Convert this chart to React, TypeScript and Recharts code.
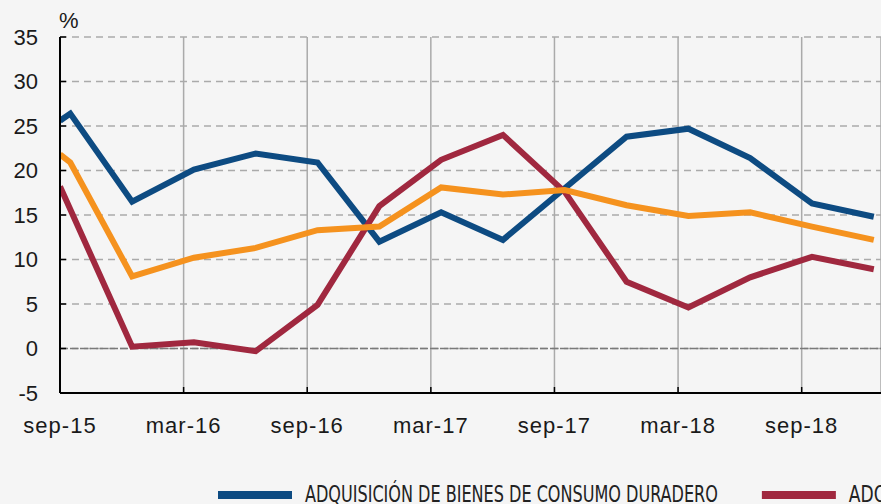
// Crédito por finalidades: tasas de variación (%)
import { LineChart, Line, XAxis, YAxis, CartesianGrid, ReferenceLine, Legend, Label } from "recharts";

// meses desde sep-15 (0 = eje, datos trimestrales)
const meses = [0, 0.5, 3.5, 6.5, 9.5, 12.5, 15.5, 18.5, 21.5, 24.5, 27.5, 30.5, 33.5, 36.5, 39.5];
const duradero = [25.6, 26.4, 16.5, 20.1, 21.9, 20.9, 12.0, 15.3, 12.2, 18.0, 23.8, 24.7, 21.4, 16.3, 14.8];
const vivienda = [18.2, null, 0.2, 0.7, -0.3, 4.9, 16.0, 21.2, 24.0, 17.6, 7.5, 4.6, 8.0, 10.3, 8.9];
const otras = [21.8, 20.9, 8.1, 10.2, 11.3, 13.3, 13.7, 18.1, 17.3, 17.8, 16.1, 14.9, 15.3, 13.7, 12.2];

const xTicks = [0, 6, 12, 18, 24, 30, 36];
const xLabels = ["sep-15", "mar-16", "sep-16", "mar-17", "sep-17", "mar-18", "sep-18"];
const yTicks = [-5, 0, 5, 10, 15, 20, 25, 30, 35];

const series = [
    { key: "duradero", name: "ADQUISICIÓN DE BIENES DE CONSUMO DURADERO", color: "#0d4b82" },
    { key: "vivienda", name: "ADQUISICIÓN DE VIVIENDA", color: "#a0283f" },
    { key: "otras", name: "OTRAS FINALIDADES", color: "#f5921e" },
];

const data = meses.map((m, i) => ({ m, duradero: duradero[i], vivienda: vivienda[i], otras: otras[i] }));

const FONT = "'Liberation Sans', Arial, sans-serif";

const LeyendaCustom = () => {
    let x = 218;
    return (
        <svg width={1500} height={30} style={{ display: "block", overflow: "visible" }}>
            {series.map((s) => {
                const textW = s.name.length * 10.07;
                const sx = x;
                x += 74 + 13 + textW + 44;
                return (
                    <g key={s.key}>
                        <rect x={sx} y={17} width={74} height={8} fill={s.color} />
                        <text
                            x={sx + 87}
                            y={28}
                            fontSize={23}
                            fill="#222"
                            fontFamily="'Liberation Sans Narrow', 'DejaVu Sans Condensed', Arial, sans-serif"
                            textLength={textW}
                            lengthAdjust="spacingAndGlyphs"
                        >
                            {s.name}
                        </text>
                    </g>
                );
            })}
        </svg>
    );
};

export default function App() {
    return (
        <div
            style={{
                position: "absolute", left: 0, top: 0, width: 881, height: 504,
                overflow: "hidden", background: "#f5f5f5", fontFamily: FONT,
            }}
        >
            <LineChart width={881} height={504} data={data} margin={{ top: 37, right: 0, bottom: 0, left: 0 }}>
                <CartesianGrid horizontal vertical={false} stroke="#aaaaaa" strokeWidth={1.5} strokeDasharray="7 5" />
                <CartesianGrid horizontal={false} vertical stroke="#aaaaaa" strokeWidth={1.5} />
                <ReferenceLine y={0} stroke="#7a7a7a" strokeWidth={1.5} strokeDasharray="8 2" />
                <XAxis
                    type="number"
                    dataKey="m"
                    domain={[0, 39.85]}
                    allowDataOverflow
                    ticks={xTicks}
                    tickFormatter={(v: number) => xLabels[xTicks.indexOf(v)]}
                    height={81}
                    axisLine={{ stroke: "#000", strokeWidth: 2 }}
                    tickLine={{ stroke: "#000", strokeWidth: 1.5 }}
                    tickSize={-6}
                    tickMargin={30}
                    tick={{ fontSize: 22, fill: "#1a1a1a", fontFamily: FONT, letterSpacing: 1 }}
                    interval={0}
                />
                <YAxis
                    domain={[-5, 35]}
                    ticks={yTicks}
                    width={60}
                    axisLine={{ stroke: "#000", strokeWidth: 2 }}
                    tickLine={{ stroke: "#000", strokeWidth: 1.5 }}
                    tickSize={-6}
                    tickMargin={28}
                    tick={{ fontSize: 22, fill: "#1a1a1a", fontFamily: FONT }}
                    interval={0}
                >
                    <Label
                        content={({ viewBox }: any) => (
                            <text x={viewBox.x + viewBox.width - 1} y={viewBox.y - 9} fontSize={22} fill="#1a1a1a" fontFamily={FONT}>
                                %
                            </text>
                        )}
                    />
                </YAxis>
                <Legend verticalAlign="bottom" content={<LeyendaCustom />} wrapperStyle={{ left: 0, bottom: 0, height: 30 }} />
                {series.map((s) => (
                    <Line
                        key={s.key}
                        type="linear"
                        dataKey={s.key}
                        name={s.name}
                        stroke={s.color}
                        strokeWidth={6}
                        dot={false}
                        activeDot={false}
                        connectNulls
                        isAnimationActive={false}
                    />
                ))}
            </LineChart>
        </div>
    );
}
